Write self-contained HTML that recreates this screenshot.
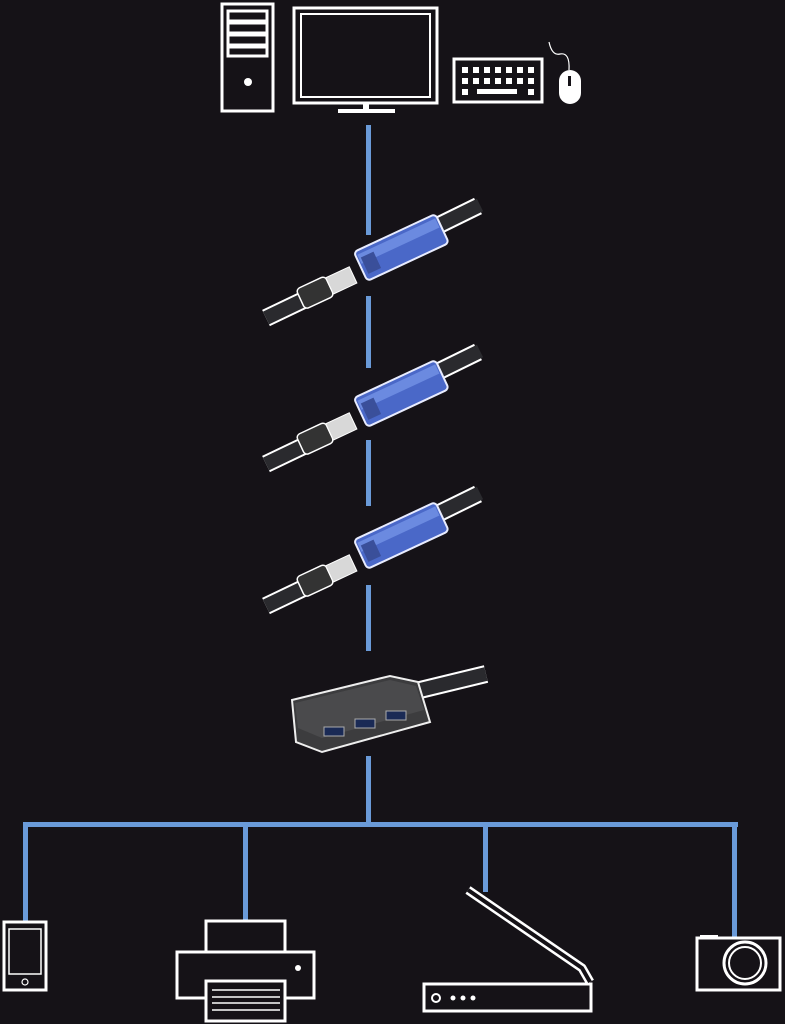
<!DOCTYPE html>
<html><head><style>html,body{margin:0;padding:0;background:#151217;}svg{display:block}</style></head>
<body>
<svg width="785" height="1024" viewBox="0 0 785 1024" xmlns="http://www.w3.org/2000/svg">
<rect width="785" height="1024" fill="#151217"/>
<defs>
<g id="cab">
  <path d="M425 232 L478 206" stroke="#fff" stroke-width="18"/>
  <path d="M425 232 L480 205" stroke="#2a2a2e" stroke-width="14"/>
  <g transform="rotate(-25 400 247)">
    <rect x="356" y="232" width="90" height="32" rx="4" fill="#4a68c8" stroke="#e8ecff" stroke-width="2"/>
    <rect x="358" y="236" width="86" height="10" fill="#6b8ae0"/>
    <rect x="360" y="240" width="14" height="18" fill="#3a4f9a"/>
  </g>
  <path d="M266 318 L312 296" stroke="#fff" stroke-width="18"/>
  <path d="M266 318 L312 296" stroke="#2a2a2e" stroke-width="14"/>
  <g transform="rotate(-25 325 288)">
    <rect x="298" y="277" width="32" height="22" rx="4" fill="#333" stroke="#fff" stroke-width="1.5"/>
    <rect x="330" y="279" width="26" height="18" fill="#d8d8d8" stroke="#fff" stroke-width="1"/>
  </g>
</g>
</defs>
<g fill="none" stroke="#fff" stroke-width="3">
  <rect x="222" y="4" width="51" height="107"/>
  <rect x="228" y="11" width="39" height="10"/>
  <rect x="228" y="23" width="39" height="10"/>
  <rect x="228" y="35" width="39" height="10"/>
  <rect x="228" y="47" width="39" height="9"/>
  <rect x="294" y="8" width="143" height="95"/>
  <rect x="301" y="14" width="129" height="83" stroke-width="2"/>
  <rect x="454" y="59" width="88" height="43"/>
</g>
<circle cx="248" cy="82" r="4" fill="#fff"/>
<rect x="363" y="104" width="6" height="6" fill="#fff"/>
<rect x="338" y="109" width="57" height="4" fill="#fff"/>
<g fill="#fff">
  <rect x="462" y="67" width="6" height="6"/><rect x="473" y="67" width="6" height="6"/><rect x="484" y="67" width="6" height="6"/><rect x="495" y="67" width="6" height="6"/><rect x="506" y="67" width="6" height="6"/><rect x="517" y="67" width="6" height="6"/><rect x="528" y="67" width="6" height="6"/>
  <rect x="462" y="78" width="6" height="6"/><rect x="473" y="78" width="6" height="6"/><rect x="484" y="78" width="6" height="6"/><rect x="495" y="78" width="6" height="6"/><rect x="506" y="78" width="6" height="6"/><rect x="517" y="78" width="6" height="6"/><rect x="528" y="78" width="6" height="6"/>
  <rect x="462" y="89" width="6" height="6"/><rect x="477" y="89" width="40" height="5"/><rect x="528" y="89" width="6" height="6"/>
  <rect x="559" y="70" width="22" height="34" rx="11"/>
</g>
<rect x="568" y="76" width="3" height="10" fill="#151217"/>
<path d="M549 42 Q552 56 560 54 Q570 52 569 70" fill="none" stroke="#fff" stroke-width="1.2"/>
<g fill="#6a9ad8">
  <rect x="366" y="125" width="5" height="110"/>
  <rect x="366" y="296" width="5" height="72"/>
  <rect x="366" y="440" width="5" height="66"/>
  <rect x="366" y="585" width="5" height="66"/>
  <rect x="366" y="756" width="5" height="70"/>
  <rect x="23" y="822" width="715" height="5"/>
  <rect x="23" y="822" width="5" height="100"/>
  <rect x="243" y="822" width="5" height="100"/>
  <rect x="483" y="822" width="5" height="70"/>
  <rect x="732" y="822" width="5" height="115"/>
</g>
<use href="#cab"/>
<use href="#cab" transform="translate(0 146)"/>
<use href="#cab" transform="translate(0 288)"/>
<path d="M420 690 L486 674" stroke="#fff" stroke-width="18"/>
<path d="M420 690 L486 674" stroke="#2a2a2e" stroke-width="14"/>
<path d="M292 700 L390 676 L418 682 L430 722 L322 752 L296 742 Z" fill="#3c3c3e" stroke="#eee" stroke-width="2"/>
<path d="M295 703 L390 680 L416 686 L424 710 L322 738 L298 728 Z" fill="#4a4a4c"/>
<g fill="#1a2a55" stroke="#aaa" stroke-width="1">
  <rect x="324" y="727" width="20" height="9"/>
  <rect x="355" y="719" width="20" height="9"/>
  <rect x="386" y="711" width="20" height="9"/>
</g>
<g fill="none" stroke="#fff" stroke-width="3">
  <rect x="4" y="922" width="42" height="68"/>
  <rect x="9" y="929" width="32" height="45" stroke-width="1.5"/>
  <rect x="206" y="921" width="79" height="31"/>
  <rect x="177" y="952" width="137" height="46"/>
  <rect x="206" y="981" width="79" height="40" fill="#151217"/>
  <rect x="424" y="984" width="167" height="27"/>
  <rect x="697" y="938" width="83" height="52"/>
  <circle cx="745" cy="963" r="21"/>
  <circle cx="745" cy="963" r="16" stroke-width="2"/>
</g>
<path d="M468 890 L582 968 L590 982" fill="none" stroke="#fff" stroke-width="9" stroke-linejoin="round"/>
<path d="M468 890 L582 968 L590 982" fill="none" stroke="#151217" stroke-width="4" stroke-linejoin="round"/>
<circle cx="25" cy="982" r="3" fill="none" stroke="#fff" stroke-width="1.2"/>
<circle cx="298" cy="968" r="3" fill="#fff"/>
<g stroke="#fff" stroke-width="1.5"><line x1="212" y1="990" x2="280" y2="990"/><line x1="212" y1="997" x2="280" y2="997"/><line x1="212" y1="1003" x2="280" y2="1003"/><line x1="212" y1="1010" x2="280" y2="1010"/></g>
<circle cx="436" cy="998" r="4" fill="none" stroke="#fff" stroke-width="2"/>
<g fill="#fff"><circle cx="453" cy="998" r="2.5"/><circle cx="463" cy="998" r="2.5"/><circle cx="473" cy="998" r="2.5"/></g>
<rect x="700" y="935" width="18" height="4" fill="#fff"/>
</svg>
</body></html>
